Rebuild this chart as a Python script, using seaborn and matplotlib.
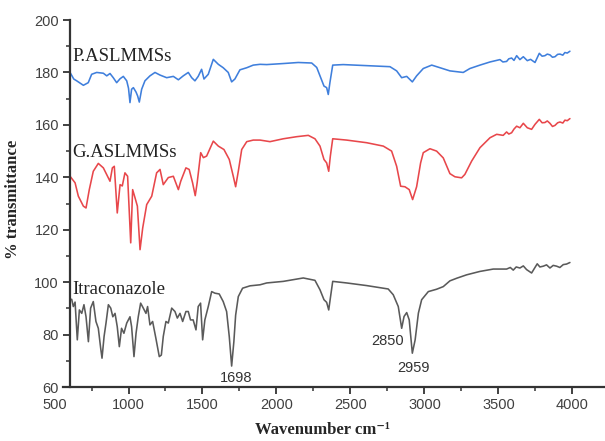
import matplotlib
matplotlib.use("Agg")
import matplotlib.pyplot as plt
import seaborn as sns
import pandas as pd
from matplotlib.ticker import MultipleLocator

# ---------------- data ----------------
p_wn = [605, 630, 650, 695, 728, 751, 785, 830, 853, 875, 897, 920, 943, 965, 988,
        1000, 1010, 1021, 1033, 1051, 1062, 1073, 1089, 1111, 1145, 1179, 1213, 1258,
        1303, 1337, 1370, 1404, 1427, 1449, 1471, 1494, 1510, 1539, 1573, 1607, 1640,
        1674, 1697, 1719, 1753, 1799, 1843, 1889, 1934, 2046, 2147, 2238, 2272, 2294,
        2321, 2339, 2350, 2361, 2380, 2451, 2609, 2767, 2812, 2846, 2880, 2918, 2947,
        2992, 3049, 3105, 3172, 3262, 3307, 3375, 3443, 3510, 3530, 3555, 3570, 3589,
        3605, 3623, 3645, 3668, 3695, 3717, 3747, 3776, 3795, 3814, 3830, 3848, 3865,
        3882, 3900, 3916, 3935, 3949, 3965, 3983]
p_t = [180, 177.5, 176.8, 175.1, 176.1, 179.3, 180, 179.7, 178.7, 179.6, 178, 176.1, 177.6,
       178.5, 176.8, 174, 168.5, 173.6, 174.2, 172.5, 171, 168.7, 173.6, 176.8, 178.7, 180,
       179, 178, 178.5, 177.2, 178.7, 180, 178, 176.8, 178.5, 181.2, 177.5, 179.3, 185,
       183.1, 181.8, 180, 176.4, 177.5, 181, 181.8, 182.8, 183.1, 183, 183.4, 183.8, 183.6,
       181.9, 178.7, 174.8, 174.2, 171.6, 176.1, 182.8, 183, 182.6, 182.2, 180.6, 178, 178.5,
       176.4, 178.7, 181.5, 182.8, 181.8, 180.6, 180, 181.5, 182.8, 184, 184.9, 184.0, 184.2,
       185.2, 185.5, 184.6, 186.4, 184.9, 186, 184.5, 185, 183.8, 187.3, 186.2, 186.4, 187.0,
       186.7, 185.8, 186, 186.9, 187, 186.6, 187.6, 187.4, 188.1]

g_wn = [605, 639, 661, 695, 713, 735, 762, 796, 830, 853, 875, 891, 904, 924, 943, 958,
        976, 994, 1015, 1028, 1044, 1060, 1078, 1096, 1123, 1157, 1190, 1213, 1235, 1269,
        1303, 1337, 1353, 1388, 1410, 1433, 1451, 1464, 1488, 1506, 1528, 1573, 1607, 1645,
        1681, 1708, 1724, 1742, 1765, 1799, 1843, 1889, 1956, 2046, 2137, 2215, 2260, 2294,
        2321, 2339, 2353, 2364, 2380, 2474, 2609, 2722, 2778, 2812, 2839, 2868, 2897, 2920,
        2947, 2974, 2992, 3037, 3082, 3127, 3172, 3206, 3251, 3273, 3319, 3375, 3443, 3488,
        3532, 3555, 3570, 3589, 3605, 3623, 3645, 3668, 3695, 3724, 3747, 3776, 3795, 3814,
        3830, 3848, 3865, 3882, 3900, 3916, 3935, 3949, 3965, 3983]
g_t = [140.4, 137.9, 132.8, 129, 128.3, 135.3, 142.3, 145.3, 143.6, 141, 138.5, 143.6, 144.2,
       126.4, 137.2, 136.7, 141.7, 140.4, 115, 135.3, 132.2, 129, 112.4, 120.7, 129.6, 132.8,
       141.7, 143, 137.2, 139.9, 140.4, 135.3, 138.5, 143.6, 143, 137.9, 133, 137.9, 149.4,
       147.5, 148.1, 153.8, 151.9, 150.6, 146.8, 140.4, 136.4, 142.3, 150.6, 153.6, 154.2,
       154.2, 153.6, 154.7, 155.5, 156, 154.7, 151.9, 146.8, 145.5, 142.3, 148.1, 154.7, 154.2,
       153.2, 151.9, 150, 144.2, 136.6, 136.4, 135.3, 131.5, 136.4, 145.5, 149.4, 150.9, 150,
       147.4, 141.4, 140.2, 139.8, 141.1, 146.2, 151.3, 155.1, 156.4, 156, 157.3, 156.5, 157,
       158.4, 159.5, 158.9, 160.6, 158.9, 158.3, 160.2, 162.1, 160.8, 160.9, 161.5, 160.6,
       159.4, 159.8, 160.8, 161.1, 160.7, 161.8, 161.6, 162.4]

i_wn = [616, 627, 639, 654, 668, 684, 699, 713, 729, 744, 762, 780, 796, 812, 821, 835,
        848, 864, 880, 894, 909, 924, 938, 953, 969, 988, 1010, 1021, 1037, 1051, 1066,
        1082, 1100, 1118, 1129, 1145, 1163, 1185, 1208, 1222, 1235, 1253, 1269, 1292, 1314,
        1330, 1348, 1366, 1388, 1404, 1419, 1437, 1456, 1471, 1487, 1501, 1516, 1539, 1562,
        1584, 1613, 1640, 1663, 1681, 1697, 1712, 1724, 1742, 1771, 1821, 1889, 1934, 2046,
        2181, 2260, 2294, 2321, 2339, 2353, 2364, 2380, 2474, 2609, 2755, 2789, 2823, 2846,
        2862, 2880, 2897, 2918, 2937, 2959, 2981, 3026, 3082, 3127, 3172, 3218, 3285, 3375,
        3465, 3555, 3580, 3600, 3620, 3645, 3668, 3690, 3724, 3762, 3780, 3803, 3825, 3848,
        3870, 3893, 3915, 3938, 3960, 3983]
i_t = [93.5, 90.7, 92.4, 78, 89.4, 88.1, 91.4, 86.8, 77.3, 90.1, 92.6, 85, 82.4, 74.8, 71,
       79.3, 84.4, 91.4, 90.1, 86.8, 88.1, 83, 75.4, 82.4, 80.5, 84.4, 86.8, 83, 71.6, 80.5,
       86.8, 92, 90.1, 88.1, 90.7, 83.7, 85, 78.6, 71.6, 72.2, 79.3, 85, 84.4, 90.1, 88.8,
       86.3, 88.1, 85, 88.8, 88.8, 85.6, 85.6, 81.8, 90.7, 92, 78, 85.6, 90.7, 96.4, 95.8,
       95.5, 92.6, 88.8, 79.2, 68, 77.3, 87.4, 94.5, 97.7, 98.6, 99, 99.7, 100.3, 101.6,
       100.7, 97.1, 93.3, 92.3, 89.4, 93.9, 100.3, 99.7, 98.7, 97.4, 95.2, 90.7, 82.4, 86.9,
       88.4, 85.6, 72.9, 78, 88.2, 93.3, 96.4, 97.3, 98.3, 100.5, 101.5, 102.8, 104.1, 105,
       105, 105.6, 104.6, 105.8, 105.4, 106.2, 104.8, 103.5, 107, 105.8, 106.1, 106.6, 105.4,
       106.4, 106.1, 105.6, 106.7, 106.9, 107.5]

series_names = ["P.ASLMMSs", "G.ASLMMSs", "Itraconazole"]
series_colors = ["#3f7fdc", "#e8474b", "#5a5a5a"]
x_ticks = [500, 1000, 1500, 2000, 2500, 3000, 3500, 4000]
y_ticks = [60, 80, 100, 120, 140, 160, 180, 200]
peak_labels = ["1698", "2850", "2959"]
peak_pos = [(1726, 61.9), (2753, 76.1), (2924, 65.9)]

# ---------------- build frame ----------------
frames = []
for name, wn, t in zip(series_names, [p_wn, g_wn, i_wn], [p_t, g_t, i_t]):
    frames.append(pd.DataFrame({"wn": wn, "T": t, "series": name}))
df = pd.concat(frames, ignore_index=True)

sns.set_style("ticks")
plt.rcParams["font.family"] = ["Liberation Sans", "DejaVu Sans"]

fig = plt.figure(figsize=(6.05, 4.41), dpi=100)
ax = fig.add_axes([0.0901, 0.1224, 0.9099, 0.8322])

sns.lineplot(data=df, x="wn", y="T", hue="series", hue_order=series_names,
             palette=series_colors, sort=False, estimator=None, legend=False,
             linewidth=1.15, ax=ax)

ax.set_xlim(500, 4220)
ax.set_ylim(60, 200)

for s in ["top", "right"]:
    ax.spines[s].set_visible(False)
ax.spines["left"].set_position(("data", 605))
ax.spines["left"].set_bounds(60, 200)
ax.spines["bottom"].set_bounds(560, 4220)
for s in ["left", "bottom"]:
    ax.spines[s].set_linewidth(1.6)
    ax.spines[s].set_color("#333333")

ax.set_xticks(x_ticks)
ax.set_yticks(y_ticks)
ax.xaxis.set_minor_locator(MultipleLocator(250))
ax.yaxis.set_minor_locator(MultipleLocator(10))
ax.tick_params(which="major", direction="out", length=5, width=1.3, color="#333333",
               labelsize=10.5, labelcolor="#404040", pad=3)
ax.tick_params(which="minor", direction="out", length=3, width=1.1, color="#333333")
ax.xaxis.get_major_ticks()[0].tick1line.set_visible(False)

ax.set_xlabel("Wavenumber cm\u207b\u00b9", fontfamily=["Liberation Serif", "DejaVu Serif"],
              fontweight="bold", fontsize=12)
ax.set_ylabel("% transmittance", fontfamily=["Liberation Serif", "DejaVu Serif"],
              fontweight="bold", fontsize=12)
ax.xaxis.set_label_coords(0.486, -0.095)
ax.yaxis.set_label_coords(-0.06, 0.51)

label_pos = [(618, 184.3), (618, 147.6), (618, 95.6)]
for name, (lx, ly) in zip(series_names, label_pos):
    ax.text(lx, ly, name, fontfamily=["Liberation Serif", "DejaVu Serif"], fontsize=13.5,
            color="#222222", ha="left", va="baseline")

for lab, (px, py) in zip(peak_labels, peak_pos):
    ax.text(px, py, lab, fontsize=10.5, color="#333333", ha="center", va="baseline")

fig.savefig("out.png", dpi=100)
